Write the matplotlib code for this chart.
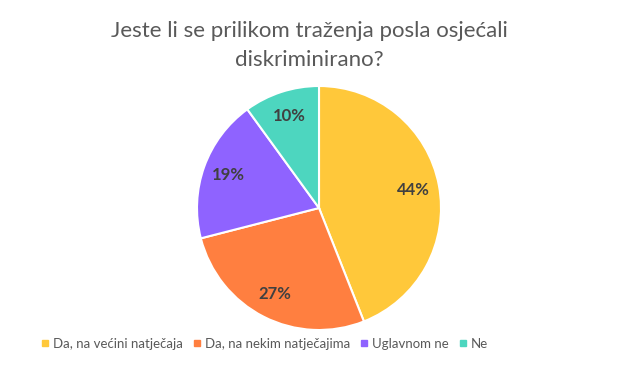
import matplotlib
matplotlib.use('Agg')
import matplotlib.pyplot as plt
from matplotlib.lines import Line2D

labels = ['Da, na većini natječaja', 'Da, na nekim natječajima', 'Uglavnom ne', 'Ne']
values = [44, 27, 19, 10]
colors = ['#FFC83A', '#FF7F40', '#8F63FF', '#4DD6BF']

plt.rcParams['font.family'] = ['Lato', 'DejaVu Sans']

fig = plt.figure(figsize=(6.19, 3.69), dpi=100)
ax = fig.add_axes([197 / 619, 39 / 369, 244 / 619, 244 / 369])

wedges, texts, autotexts = ax.pie(values, colors=colors, startangle=90, counterclock=False,
                                  autopct='%d%%', pctdistance=0.79,
                                  wedgeprops=dict(edgecolor='white', linewidth=1.5),
                                  textprops=dict(color='#404040', fontsize=12, fontweight='bold'))
ax.set_xlim(-1, 1)
ax.set_ylim(-1, 1)
ax.set_aspect('equal')

fig.text(0.5, 1 - 31 / 369, 'Jeste li se prilikom traženja posla osjećali', ha='center', va='center',
         fontsize=16, color='#595959')
fig.text(0.5, 1 - 60 / 369, 'diskriminirano?', ha='center', va='center',
         fontsize=16, color='#595959')

handles = [Line2D([0], [0], marker='s', linestyle='', markersize=5, color=c) for c in colors]
fig.legend(handles, labels, loc='center left', bbox_to_anchor=(27 / 619, 1 - 344 / 369), ncol=4, frameon=False,
           fontsize=9.5, labelcolor='#595959', handletextpad=0.1, columnspacing=0.55, handlelength=1)

fig.savefig('out.png', dpi=100)
